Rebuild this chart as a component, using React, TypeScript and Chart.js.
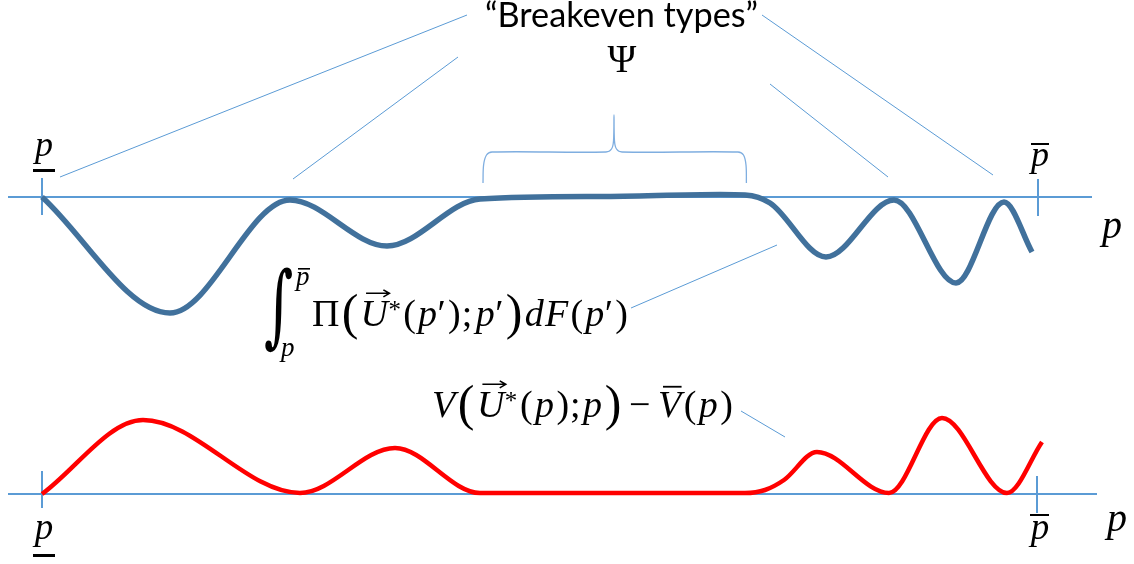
import React, { useEffect, useRef } from 'react';
import { Chart, registerables } from 'chart.js';

Chart.register(...registerables);

// ---------- data (p = horizontal position, v = value relative to the panel's axis) ----------
// Top panel: integral of profits curve
const topP = [42, 170, 290, 387, 480, 600, 720, 745, 770, 826, 894, 956, 1004, 1032];
const topV = [0, -116, -3, -49, -2, 0.5, 2.5, 2, -6, -60, -3, -86, -5, -55];

// Bottom panel: V(U*(p);p) - Vbar(p)
const botP = [42, 143, 300, 395, 480, 745, 765, 784, 817, 889, 942, 1007, 1042];
const botV = [0, 74, 1, 46, 1, 1, 4, 14, 42, 1, 76, 1, 52];

// Axis lines
const topAxisP = [8, 1092];
const botAxisP = [8, 1097];
const axisV = [0, 0];

// Tick marks at p_low and p_high
const topTickLowP = [42, 42];
const topTickLowV = [19, -18];
const topTickHighP = [1038, 1038];
const topTickHighV = [18, -19];
const botTickLowP = [42, 42];
const botTickLowV = [23, -14];
const botTickHighP = [1037, 1037];
const botTickHighV = [18, -19];

// Leader lines from "Breakeven types" to the breakeven points (top panel values)
const leader1P = [60, 467];
const leader1V = [20, 182];
const leader2P = [293, 458];
const leader2V = [18, 140];
const leader3P = [770, 888];
const leader3V = [113, 20];
const leader4P = [762, 993];
const leader4V = [182, 22];
// Leader for integral label (top panel)
const leader5P = [631, 777];
const leader5V = [-111, -48];
// Leader for V label (bottom panel)
const leader6P = [741, 785];
const leader6V = [83, 57];

// Brace over the flat breakeven interval (top panel values)
const braceP = [483, 483.6, 486.5, 492, 606, 611.5, 613.5, 614, 614.5, 616.5, 622, 738, 743.5, 746, 746.4];
const braceV = [14, 32, 42, 45, 45, 48, 56, 82, 56, 48, 45, 45, 42, 32, 14];

// Text labels
const titleText = '\u201CBreakeven types\u201D';
const psiText = '\u03A8';
const axisName = 'p';

const zip = (xs: number[], ys: number[]) => xs.map((x, i) => ({ x, y: ys[i] }));

const mathFont = '"Liberation Serif", serif';
const lineBlue = '#5B9BD5';

type Run = { t: string; s?: number; it?: boolean; dy?: number; arrow?: boolean; bar?: boolean; g?: number; pre?: number };

function drawRuns(ctx: CanvasRenderingContext2D, runs: Run[], x0: number, x1: number, base: number, defSize: number) {
  const fonts = runs.map(r => `${r.it ? 'italic ' : ''}${r.s ?? defSize}px ${mathFont}`);
  const ws = runs.map((r, i) => { ctx.font = fonts[i]; return ctx.measureText(r.t).width; });
  const nat = ws.reduce((a, b) => a + b, 0) + runs.reduce((a, r) => a + (r.pre ?? 0), 0);
  const gw = runs.slice(0, -1).reduce((a, r) => a + (r.g ?? 1), 0);
  const extra = (x1 - x0 - nat) / gw;
  let x = x0;
  runs.forEach((r, i) => {
    x += r.pre ?? 0;
    ctx.font = fonts[i];
    const y = base + (r.dy ?? 0);
    const s = r.s ?? defSize;
    ctx.fillText(r.t, x, y);
    if (r.arrow) {
      const ay = y - s * 0.86;
      const ax0 = x + ws[i] * 0.2;
      const ax1 = x + ws[i] * 1.05;
      ctx.save();
      ctx.strokeStyle = '#000';
      ctx.lineWidth = 1.6;
      ctx.beginPath();
      ctx.moveTo(ax0, ay);
      ctx.lineTo(ax1, ay);
      ctx.moveTo(ax1 - 6, ay - 3.5);
      ctx.lineTo(ax1, ay);
      ctx.lineTo(ax1 - 6, ay + 3.5);
      ctx.stroke();
      ctx.restore();
    }
    if (r.bar) {
      const by = y - s * 0.82;
      ctx.fillRect(x + ws[i] * 0.22, by, ws[i] * 0.8, 1.8);
    }
    x += ws[i] + (i < runs.length - 1 ? extra * (r.g ?? 1) : 0);
  });
}

// draw a glyph stretched into a box (left, top, width, height)
function drawInBox(ctx: CanvasRenderingContext2D, t: string, family: string, left: number, top: number, width: number, height: number) {
  ctx.save();
  ctx.font = `100px ${family}`;
  const m = ctx.measureText(t);
  const h = m.actualBoundingBoxAscent + m.actualBoundingBoxDescent;
  const w = m.actualBoundingBoxLeft + m.actualBoundingBoxRight;
  ctx.translate(left, top);
  ctx.scale(width / w, height / h);
  ctx.fillText(t, m.actualBoundingBoxLeft, m.actualBoundingBoxAscent);
  ctx.restore();
}

const textPlugin = {
  id: 'diagramText',
  afterDatasetsDraw(chart: any) {
    const ctx: CanvasRenderingContext2D = chart.ctx;
    const sx = chart.scales.x;
    const yt = chart.scales.yTop;
    const yb = chart.scales.yBot;
    const X = (v: number) => sx.getPixelForValue(v);
    const YT = (v: number) => yt.getPixelForValue(v);
    const YB = (v: number) => yb.getPixelForValue(v);
    ctx.save();
    ctx.fillStyle = '#000';
    ctx.textBaseline = 'alphabetic';

    // Title
    ctx.textAlign = 'left';
    const sansFam = 'Lato, "Open Sans", sans-serif';
    ctx.font = `30px ${sansFam}`;
    const tw = ctx.measureText(titleText).width;
    const tSize = 30 * 273 / tw;
    ctx.font = `${tSize}px ${sansFam}`;
    ctx.fillText(titleText, X(485), YT(197 - 27));

    // Psi
    ctx.textAlign = 'center';
    ctx.font = `39px ${mathFont}`;
    ctx.fillText(psiText, X(622), YT(197 - 72));

    // p labels
    const pItal = (size: number) => `italic ${size}px ${mathFont}`;
    ctx.font = pItal(36);
    ctx.fillText('p', X(44), YT(197 - 156));
    ctx.fillRect(X(33), YT(197 - 169), 22, 3);
    ctx.font = pItal(37);
    ctx.fillText('p', X(44), YB(494 - 539));
    ctx.fillRect(X(33), YB(494 - 554), 22, 3);
    ctx.font = pItal(36);
    ctx.fillText('p', X(1040), YT(197 - 166));
    ctx.fillRect(X(1031), YT(197 - 143), 18, 2);
    ctx.font = pItal(37);
    ctx.fillText('p', X(1040), YB(494 - 539));
    ctx.fillRect(X(1030), YB(494 - 514), 19, 2);
    ctx.font = pItal(40);
    ctx.fillText(axisName, X(1112), YT(197 - 238));
    ctx.fillText(axisName, X(1117), YB(494 - 531));

    // Integral formula
    ctx.textAlign = 'left';
    drawInBox(ctx, '\u222B', '"DejaVu Serif", serif', X(265), YT(197 - 267), 27, 86);
    ctx.font = pItal(27);
    ctx.fillText('p', X(296), YT(197 - 285));
    ctx.fillRect(X(298), YT(197 - 268), 12, 1.6);
    ctx.fillText('p', X(281), YT(197 - 356));

    const intRuns: Run[] = [
      { t: '\u03A0' },
      { t: '(', s: 50, dy: 3 },
      { t: 'U', it: true, arrow: true, g: 0.2 },
      { t: '*', s: 25, dy: -8 },
      { t: '(' },
      { t: 'p', it: true, g: 0.2 },
      { t: '\u2032' },
      { t: ')', g: 0.4 },
      { t: ';', g: 1.6 },
      { t: 'p', it: true, g: 0.2 },
      { t: '\u2032' },
      { t: ')', s: 50, dy: 3 },
      { t: 'd', it: true, g: 0.6 },
      { t: 'F', it: true },
      { t: '(' },
      { t: 'p', it: true, g: 0.2 },
      { t: '\u2032' },
      { t: ')' },
    ];
    drawRuns(ctx, intRuns, X(312), X(628), YT(197 - 326), 38);

    const vRuns: Run[] = [
      { t: 'V', it: true },
      { t: '(', s: 50, dy: 3 },
      { t: 'U', it: true, arrow: true, g: 0.2 },
      { t: '*', s: 25, dy: -8 },
      { t: '(' },
      { t: 'p', it: true },
      { t: ')', g: 0.3 },
      { t: ';' },
      { t: 'p', it: true },
      { t: ')', s: 50, dy: 3, g: 3 },
      { t: '\u2212', g: 3 },
      { t: 'V', it: true, bar: true },
      { t: '(' },
      { t: 'p', it: true },
      { t: ')' },
    ];
    drawRuns(ctx, vRuns, X(432), X(733), YB(494 - 417), 38);

    ctx.restore();
  },
};

function line(p: number[], v: number[], color: string, width: number, axis: string, order: number, extra: any = {}) {
  return {
    data: zip(p, v),
    showLine: true,
    borderColor: color,
    backgroundColor: color,
    borderWidth: width,
    pointRadius: 0,
    pointHoverRadius: 0,
    fill: false,
    yAxisID: axis,
    order,
    tension: 0,
    ...extra,
  };
}

export default function App() {
  const ref = useRef<HTMLCanvasElement | null>(null);
  useEffect(() => {
    if (!ref.current) return;
    const chart = new Chart(ref.current, {
      type: 'scatter',
      data: {
        datasets: [
          line(topP, topV, '#41719C', 5.5, 'yTop', 0, { cubicInterpolationMode: 'monotone', borderCapStyle: 'butt', borderJoinStyle: 'round' }),
          line(botP, botV, '#FF0000', 4.5, 'yBot', 0, { cubicInterpolationMode: 'monotone', borderCapStyle: 'butt', borderJoinStyle: 'round' }),
          line(topAxisP, axisV, lineBlue, 2, 'yTop', 5),
          line(botAxisP, axisV, lineBlue, 2, 'yBot', 5),
          line(topTickLowP, topTickLowV, lineBlue, 2, 'yTop', 5),
          line(topTickHighP, topTickHighV, lineBlue, 2, 'yTop', 5),
          line(botTickLowP, botTickLowV, lineBlue, 2, 'yBot', 5),
          line(botTickHighP, botTickHighV, lineBlue, 2, 'yBot', 5),
          line(leader1P, leader1V, lineBlue, 1, 'yTop', 4),
          line(leader2P, leader2V, lineBlue, 1, 'yTop', 4),
          line(leader3P, leader3V, lineBlue, 1, 'yTop', 4),
          line(leader4P, leader4V, lineBlue, 1, 'yTop', 4),
          line(leader5P, leader5V, lineBlue, 1, 'yTop', 4),
          line(leader6P, leader6V, lineBlue, 1, 'yBot', 4),
          line(braceP, braceV, '#7FAEE0', 1.3, 'yTop', 4, { tension: 0.35 }),
        ],
      },
      options: {
        animation: false,
        responsive: false,
        maintainAspectRatio: false,
        events: [],
        layout: { padding: 0 },
        plugins: { legend: { display: false }, tooltip: { enabled: false }, title: { display: false } },
        scales: {
          x: { type: 'linear', min: 0, max: 1134, display: false },
          yTop: { type: 'linear', min: -367, max: 197, display: false },
          yBot: { type: 'linear', min: -70, max: 494, display: false },
        },
      },
      plugins: [textPlugin],
    } as any);
    return () => chart.destroy();
  }, []);
  return (
    <div style={{ position: 'absolute', left: 0, top: 0, width: 1134, height: 564, background: '#fff' }}>
      <canvas ref={ref} width={1134} height={564} style={{ display: 'block' }} />
    </div>
  );
}
